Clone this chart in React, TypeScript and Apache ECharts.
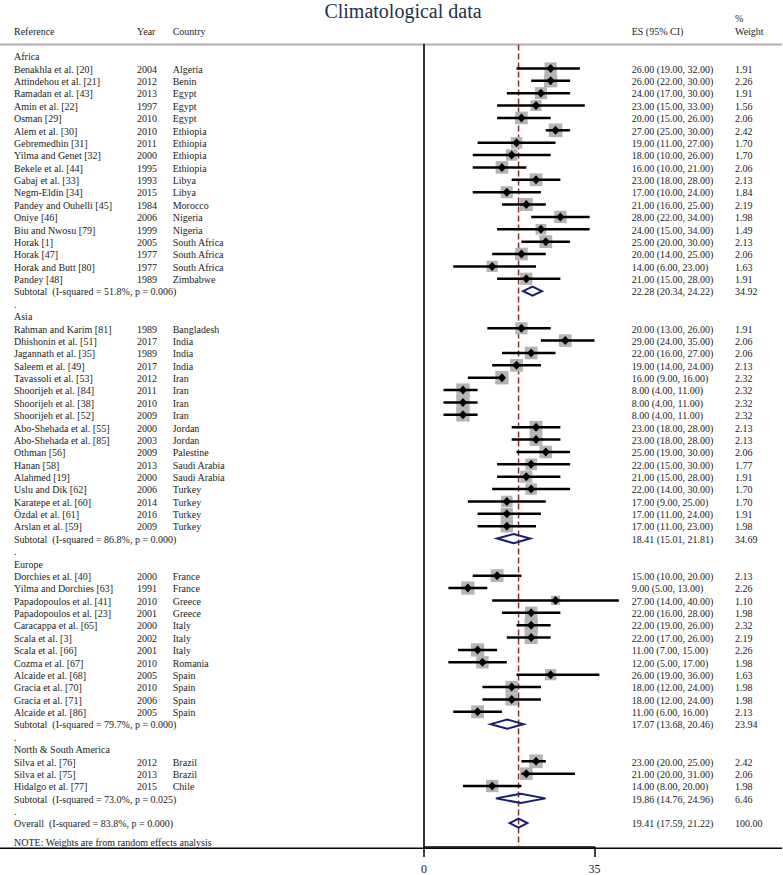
import React, { useEffect, useRef } from "react";
import * as echarts from "echarts";

type Study = [string, number, string, number, number, number, number];

const africa: Study[] = [
  ["Benakhla et al. [20]", 2004, "Algeria", 26, 19, 32, 1.91],
  ["Attindehou et al. [21]", 2012, "Benin", 26, 22, 30, 2.26],
  ["Ramadan et al. [43]", 2013, "Egypt", 24, 17, 30, 1.91],
  ["Amin et al. [22]", 1997, "Egypt", 23, 15, 33, 1.56],
  ["Osman [29]", 2010, "Egypt", 20, 15, 26, 2.06],
  ["Alem et al. [30]", 2010, "Ethiopia", 27, 25, 30, 2.42],
  ["Gebremedhin [31]", 2011, "Ethiopia", 19, 11, 27, 1.7],
  ["Yilma and Genet [32]", 2000, "Ethiopia", 18, 10, 26, 1.7],
  ["Bekele et al. [44]", 1995, "Ethiopia", 16, 10, 21, 2.06],
  ["Gabaj et al. [33]", 1993, "Libya", 23, 18, 28, 2.13],
  ["Negm-Eldin [34]", 2015, "Libya", 17, 10, 24, 1.84],
  ["Pandey and Ouhelli [45]", 1984, "Morocco", 21, 16, 25, 2.19],
  ["Oniye [46]", 2006, "Nigeria", 28, 22, 34, 1.98],
  ["Biu and Nwosu [79]", 1999, "Nigeria", 24, 15, 34, 1.49],
  ["Horak [1]", 2005, "South Africa", 25, 20, 30, 2.13],
  ["Horak [47]", 1977, "South Africa", 20, 14, 25, 2.06],
  ["Horak and Butt [80]", 1977, "South Africa", 14, 6, 23, 1.63],
  ["Pandey [48]", 1989, "Zimbabwe", 21, 15, 28, 1.91],
];

const asia: Study[] = [
  ["Rahman and Karim [81]", 1989, "Bangladesh", 20, 13, 26, 1.91],
  ["Dhishonin et al. [51]", 2017, "India", 29, 24, 35, 2.06],
  ["Jagannath et al. [35]", 1989, "India", 22, 16, 27, 2.06],
  ["Saleem et al. [49]", 2017, "India", 19, 14, 24, 2.13],
  ["Tavassoli et al. [53]", 2012, "Iran", 16, 9, 16, 2.32],
  ["Shoorijeh et al. [84]", 2011, "Iran", 8, 4, 11, 2.32],
  ["Shoorijeh et al. [38]", 2010, "Iran", 8, 4, 11, 2.32],
  ["Shoorijeh et al. [52]", 2009, "Iran", 8, 4, 11, 2.32],
  ["Abo-Shehada et al. [55]", 2000, "Jordan", 23, 18, 28, 2.13],
  ["Abo-Shehada et al. [85]", 2003, "Jordan", 23, 18, 28, 2.13],
  ["Othman [56]", 2009, "Palestine", 25, 19, 30, 2.06],
  ["Hanan [58]", 2013, "Saudi Arabia", 22, 15, 30, 1.77],
  ["Alahmed [19]", 2000, "Saudi Arabia", 21, 15, 28, 1.91],
  ["Uslu and Dik [62]", 2006, "Turkey", 22, 14, 30, 1.7],
  ["Karatepe et al. [60]", 2014, "Turkey", 17, 9, 25, 1.7],
  ["Özdal et al. [61]", 2016, "Turkey", 17, 11, 24, 1.91],
  ["Arslan et al. [59]", 2009, "Turkey", 17, 11, 23, 1.98],
];

const europe: Study[] = [
  ["Dorchies et al. [40]", 2000, "France", 15, 10, 20, 2.13],
  ["Yilma and Dorchies [63]", 1991, "France", 9, 5, 13, 2.26],
  ["Papadopoulos et al. [41]", 2010, "Greece", 27, 14, 40, 1.1],
  ["Papadopoulos et al. [23]", 2001, "Greece", 22, 16, 28, 1.98],
  ["Caracappa et al. [65]", 2000, "Italy", 22, 19, 26, 2.32],
  ["Scala et al. [3]", 2002, "Italy", 22, 17, 26, 2.19],
  ["Scala et al. [66]", 2001, "Italy", 11, 7, 15, 2.26],
  ["Cozma et al. [67]", 2010, "Romania", 12, 5, 17, 1.98],
  ["Alcaide et al. [68]", 2005, "Spain", 26, 19, 36, 1.63],
  ["Gracia et al. [70]", 2010, "Spain", 18, 12, 24, 1.98],
  ["Gracia et al. [71]", 2006, "Spain", 18, 12, 24, 1.98],
  ["Alcaide et al. [86]", 2005, "Spain", 11, 6, 16, 2.13],
];

const americas: Study[] = [
  ["Silva et al. [76]", 2012, "Brazil", 23, 20, 25, 2.42],
  ["Silva et al. [75]", 2013, "Brazil", 21, 20, 31, 2.06],
  ["Hidalgo et al. [77]", 2015, "Chile", 14, 8, 20, 1.98],
];

const regionNames = ["Africa", "Asia", "Europe", "North & South America"];
const regionStudies = [africa, asia, europe, americas];
// [ES, lower, upper, weight]
const subtotals: number[][] = [
  [22.28, 20.34, 24.22, 34.92],
  [18.41, 15.01, 21.81, 34.69],
  [17.07, 13.68, 20.46, 23.94],
  [19.86, 14.76, 24.96, 6.46],
];
const subtotalHet = [
  "I-squared = 51.8%, p = 0.006",
  "I-squared = 86.8%, p = 0.000",
  "I-squared = 79.7%, p = 0.000",
  "I-squared = 73.0%, p = 0.025",
];
const overall = [19.41, 17.59, 21.22, 100.0];
const overallHet = "I-squared = 83.8%, p = 0.000";
const xTicks = [0, 35];
const headers = ["Reference", "Year", "Country", "ES (95% CI)", "Weight"];
const noteText = "NOTE: Weights are from random effects analysis";
const titleText = "Climatological data";

const FONT = '"Liberation Serif", "Times New Roman", serif';
const COL_X = [14, 137, 172.7, 631.7, 735];

const fmtCI = (e: number, l: number, h: number) =>
  `${e.toFixed(2)} (${l.toFixed(2)}, ${h.toFixed(2)})`;

type TextRow = { r: number; cols: string[] };
const textRows: TextRow[] = [];
const studyData: number[][] = [];
const pooledData: number[][] = [];
let rowIdx = 0;
regionStudies.forEach((studies, gi) => {
  textRows.push({ r: rowIdx, cols: [regionNames[gi], "", "", "", ""] });
  rowIdx++;
  studies.forEach((s) => {
    textRows.push({
      r: rowIdx,
      cols: [s[0], String(s[1]), s[2], fmtCI(s[3], s[4], s[5]), s[6].toFixed(2)],
    });
    studyData.push([s[3], rowIdx, s[4], s[5], s[6]]);
    rowIdx++;
  });
  const st = subtotals[gi];
  textRows.push({
    r: rowIdx,
    cols: [`Subtotal  (${subtotalHet[gi]})`, "", "", fmtCI(st[0], st[1], st[2]), st[3].toFixed(2)],
  });
  pooledData.push([st[0], rowIdx, st[1], st[2]]);
  rowIdx++;
  textRows.push({ r: rowIdx, cols: [".", "", "", "", ""] });
  rowIdx++;
});
textRows.push({
  r: rowIdx,
  cols: [`Overall  (${overallHet})`, "", "", fmtCI(overall[0], overall[1], overall[2]), overall[3].toFixed(2)],
});
pooledData.push([overall[0], rowIdx, overall[1], overall[2]]);
textRows.push({ r: rowIdx + 1.48, cols: [noteText, "", "", "", ""] });

const Y_MIN = -0.935;
const Y_MAX = 63.93;

export default function App() {
  const ref = useRef<HTMLDivElement>(null);
  useEffect(() => {
    if (!ref.current) return;
    const chart = echarts.init(ref.current, undefined, { renderer: "svg" });
    const option: any = {
      animation: false,
      backgroundColor: "#ffffff",
      grid: { left: 424, right: 783 - 594.5, top: 44.5, bottom: 875 - 848.3 },
      xAxis: {
        type: "value",
        min: xTicks[0],
        max: xTicks[1],
        interval: xTicks[1] - xTicks[0],
        axisLine: { show: true, onZero: false, lineStyle: { color: "#000", width: 1.6 } },
        axisTick: { show: true, inside: false, length: 10, lineStyle: { color: "#000", width: 1.5 } },
        axisLabel: { color: "#222", fontFamily: FONT, fontSize: 12, margin: 16 },
        splitLine: { show: false },
      },
      yAxis: {
        type: "value",
        inverse: true,
        min: Y_MIN,
        max: Y_MAX,
        axisLine: { show: true, onZero: false, lineStyle: { color: "#000", width: 1.6 } },
        axisTick: { show: false },
        axisLabel: { show: false },
        splitLine: { show: false },
      },
      graphic: [
        {
          type: "text",
          x: 403,
          y: 11,
          style: { text: titleText, font: `20px ${FONT}`, fill: "#22304f", align: "center", verticalAlign: "middle" },
        },
        {
          type: "line",
          shape: { x1: 0, y1: 44.5, x2: 782, y2: 44.5 },
          style: { stroke: "#b0b0b0", lineWidth: 2 },
        },
        {
          type: "line",
          shape: { x1: 0, y1: 848.3, x2: 782, y2: 848.3 },
          style: { stroke: "#000", lineWidth: 1.6 },
          z: 10,
        },
        ...headers.map((h, i) => ({
          type: "text",
          x: COL_X[i],
          y: 31.7,
          style: { text: h, font: `10px ${FONT}`, fill: "#1c1c1c", align: "left", verticalAlign: "middle" },
        })),
        {
          type: "text",
          x: COL_X[4],
          y: 18.3,
          style: { text: "%", font: `10px ${FONT}`, fill: "#1c1c1c", align: "left", verticalAlign: "middle" },
        },
      ],
      series: [
        {
          type: "line",
          data: [
            [overall[0], Y_MIN],
            [overall[0], Y_MAX],
          ],
          symbol: "none",
          silent: true,
          z: 1,
          lineStyle: { color: "#8b2b2b", width: 1.5, type: [6, 3] },
        },
        {
          type: "custom",
          z: 3,
          silent: true,
          data: studyData,
          renderItem: (params: any, api: any) => {
            const es = api.value(0);
            const row = api.value(1);
            const c = api.coord([es, row]);
            const pl = api.coord([api.value(2), row]);
            const ph = api.coord([api.value(3), row]);
            const s = 8.8 * Math.sqrt(api.value(4));
            return {
              type: "group",
              children: [
                { type: "rect", shape: { x: c[0] - s / 2, y: c[1] - s / 2, width: s, height: s }, style: { fill: "#b4b4b4" } },
                { type: "line", shape: { x1: pl[0], y1: c[1], x2: ph[0], y2: c[1] }, style: { stroke: "#000", lineWidth: 2.5 } },
                {
                  type: "polygon",
                  shape: { points: [[c[0] - 4.1, c[1]], [c[0], c[1] - 4.5], [c[0] + 4.1, c[1]], [c[0], c[1] + 4.5]] },
                  style: { fill: "#000" },
                },
              ],
            };
          },
        },
        {
          type: "custom",
          z: 4,
          silent: true,
          data: pooledData,
          renderItem: (params: any, api: any) => {
            const row = api.value(1);
            const c = api.coord([api.value(0), row]);
            const pl = api.coord([api.value(2), row]);
            const ph = api.coord([api.value(3), row]);
            return {
              type: "polygon",
              shape: { points: [[pl[0], c[1]], [c[0], c[1] - 4.6], [ph[0], c[1]], [c[0], c[1] + 4.6]] },
              style: { fill: "none", stroke: "#14206e", lineWidth: 2 },
            };
          },
        },
        {
          type: "custom",
          z: 5,
          silent: true,
          data: textRows.map((t) => [0, t.r]),
          renderItem: (params: any, api: any) => {
            const t = textRows[params.dataIndex];
            const y = api.coord([0, api.value(1)])[1] + 0.8;
            return {
              type: "group",
              children: t.cols
                .map((txt, i) => ({ txt, i }))
                .filter((o) => o.txt !== "")
                .map((o) => ({
                  type: "text",
                  x: COL_X[o.i],
                  y,
                  style: { text: o.txt, font: `10px ${FONT}`, fill: "#1c1c1c", align: "left", verticalAlign: "middle" },
                })),
            };
          },
        },
      ],
    };
    chart.setOption(option);
    return () => chart.dispose();
  }, []);
  return <div ref={ref} style={{ position: "absolute", left: 0, top: 0, width: 783, height: 875 }} />;
}
